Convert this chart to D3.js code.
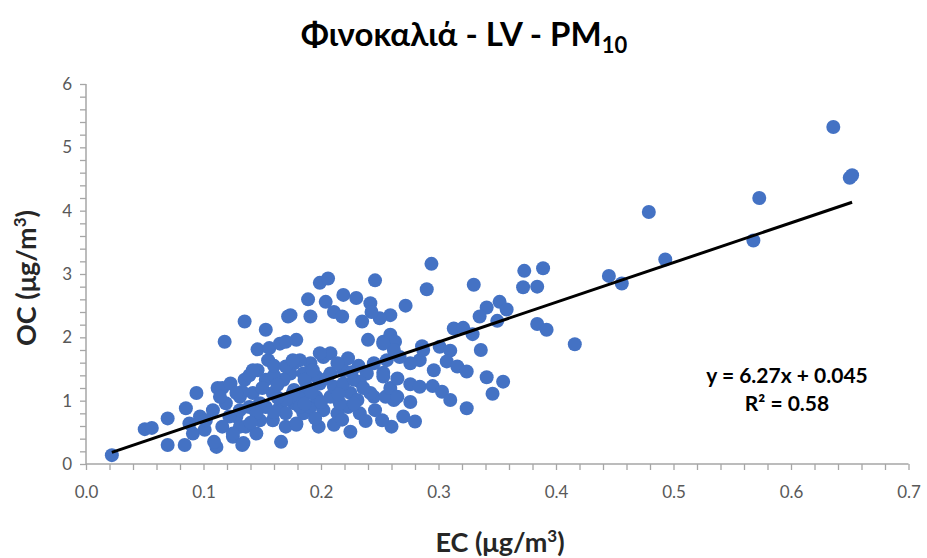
<!DOCTYPE html>
<html>
<head>
<meta charset="utf-8">
<script src="https://cdn.jsdelivr.net/npm/d3@7"></script>
<style>
  html, body { margin: 0; padding: 0; background: #fff; }
  svg { display: block; }
</style>
</head>
<body>
<svg id="chart" width="927" height="558"></svg>
<script>
// ---- data ----
const ecValues = [
  0.022,0.636,0.650,0.652,0.573,0.479,0.568,0.493,0.445,0.456,
  0.294,0.373,0.389,0.372,0.384,0.290,0.330,0.272,0.246,0.341,
  0.352,0.358,0.335,0.350,0.384,0.392,0.416,0.313,0.321,0.329,
  0.336,0.259,0.250,0.259,0.263,0.253,0.286,0.301,0.310,0.307,
  0.316,0.324,0.296,0.284,0.276,0.267,0.341,0.355,0.346,0.276,
  0.284,0.295,0.303,0.310,0.324,0.276,0.262,0.253,
  0.199,0.206,0.189,0.191,0.174,0.204,0.219,0.230,0.211,0.218,
  0.242,0.243,0.235,0.240,0.179,0.280,0.270,0.260,0.252,0.246,
  0.245,0.242,0.255,0.259,0.265,0.253,0.265,0.256,0.245,0.239,
  0.233,0.225,0.231,0.223,0.233,0.225,0.211,0.198,0.179,0.185,
  0.191,0.202,0.214,0.216,0.208,0.196,0.185,0.177,0.177,0.188,
  0.199,0.211,0.219,0.228,0.219,0.208,0.196,0.185,0.177,0.191,
  0.202,0.208,0.223,0.214,0.182,0.174,0.287,0.262,0.253,
  0.050,0.056,0.0695,0.0695,0.085,0.094,0.084,0.097,0.088,0.091,
  0.101,0.108,0.111,0.109,0.112,0.116,0.118,0.119,0.125,0.133,
  0.135,0.135,0.131,0.128,0.139,0.145,0.148,0.146,0.146,0.153,
  0.155,0.156,0.166,0.165,0.170,0.172,0.153,0.159,0.153,0.159,
  0.170,0.179,0.170,0.176,0.168,0.176,0.182,0.165,0.170,0.142,
  0.122,0.116,0.131,0.136,0.102,0.114,0.139,0.133,0.148,
  0.199,0.142,0.123,0.128,0.131,0.134,0.125,
  0.160,0.163,0.186,0.193,0.160,0.150,0.163,0.192,0.200,0.205,
  0.215,0.226,0.232,0.236,0.228,0.238,0.218,0.195,0.186,0.170,
  0.160,0.145,0.140
];
const ocValues = [
  0.14,5.32,4.52,4.56,4.20,3.98,3.53,3.23,2.97,2.85,
  3.16,3.05,3.09,2.79,2.80,2.76,2.83,2.50,2.90,2.47,
  2.56,2.44,2.33,2.26,2.21,2.12,1.89,2.14,2.15,2.05,
  1.80,2.35,2.30,2.04,1.93,1.93,1.86,1.85,1.79,1.62,
  1.54,1.46,1.48,1.64,1.59,1.69,1.37,1.30,1.11,1.26,
  1.22,1.23,1.14,1.01,0.88,0.98,1.01,1.44,
  2.86,2.93,2.60,2.33,2.35,2.56,2.67,2.62,2.40,2.33,
  2.54,2.40,2.25,1.96,1.96,0.67,0.75,0.59,0.69,0.85,
  1.06,1.12,1.06,1.20,1.06,1.38,1.35,1.64,1.59,1.43,
  1.30,1.12,1.01,0.90,0.80,0.51,0.62,0.59,0.62,0.80,
  0.90,0.85,0.80,0.96,1.06,1.06,1.06,0.96,1.17,1.22,
  1.27,1.22,1.27,1.33,1.48,1.43,1.38,1.43,1.59,1.59,
  1.69,1.75,1.67,1.59,1.64,1.43,1.80,1.80,1.90,
  0.55,0.57,0.30,0.72,0.88,1.12,0.30,0.75,0.64,0.48,
  0.54,0.85,0.27,0.35,1.20,1.20,1.93,0.96,0.43,0.30,
  2.25,1.33,1.06,0.75,0.90,0.48,0.69,1.48,1.81,2.12,
  1.64,1.83,0.35,1.90,1.93,2.33,1.33,1.12,0.90,0.69,
  0.59,0.64,1.54,1.64,1.33,1.12,0.90,0.90,1.01,1.12,
  0.75,0.59,0.59,0.59,0.69,1.06,1.40,1.14,0.96,
  1.75,1.48,1.27,1.12,0.85,0.33,0.48,
  1.40,1.25,1.33,1.48,1.55,1.20,1.05,1.12,0.98,1.35,
  1.10,1.45,1.55,1.20,0.95,0.68,0.70,0.72,0.95,0.80,
  0.82,0.80,0.65
];
const trendSlope = [6.27];
const trendIntercept = [0.045];
const trendLabels = ["y = 6.27x + 0.045", "R² = 0.58"];
const xTicks = [0, 0.1, 0.2, 0.3, 0.4, 0.5, 0.6, 0.7];
const yTicks = [0, 1, 2, 3, 4, 5, 6];

// ---- layout ----
const svg = d3.select("#chart");
const m = { left: 86, right: 908.5, top: 84, bottom: 464 };
const x = d3.scaleLinear().domain([0, 0.7]).range([m.left, m.right]);
const y = d3.scaleLinear().domain([0, 6]).range([m.bottom, m.top]);
const axisColor = "#a6a6a6";
const labelColor = "#595959";
const font = "Lato, 'Open Sans', sans-serif";

// minor ticks
const xMinor = d3.range(0, 0.7001, 0.02);
const yMinor = d3.range(0, 6.0001, 0.2);

const gx = svg.append("g").attr("transform", `translate(0,${m.bottom})`);
gx.call(d3.axisBottom(x).tickValues(xMinor).tickSize(6).tickFormat("").tickSizeOuter(0));
gx.select(".domain").remove();
gx.selectAll("line").attr("stroke", axisColor).attr("stroke-width", 1.3);
const gx2 = svg.append("g").attr("transform", `translate(0,${m.bottom})`);
gx2.call(d3.axisBottom(x).tickValues(xTicks).tickSize(0).tickPadding(22).tickFormat(d3.format(".1f")).tickSizeOuter(0));
gx2.select(".domain").remove();
gx2.selectAll("text").attr("fill", labelColor).style("font-family", font).style("font-size", "17px");

const gy = svg.append("g").attr("transform", `translate(${m.left},0)`);
gy.call(d3.axisLeft(y).tickValues(yMinor).tickSize(6).tickFormat("").tickSizeOuter(0));
gy.select(".domain").remove();
gy.selectAll("line").attr("stroke", axisColor).attr("stroke-width", 1.3);
const gy2 = svg.append("g").attr("transform", `translate(${m.left},0)`);
gy2.call(d3.axisLeft(y).tickValues(yTicks).tickSize(0).tickPadding(14).tickFormat(d3.format("d")).tickSizeOuter(0));
gy2.select(".domain").remove();
gy2.selectAll("text").attr("fill", labelColor).style("font-family", font).style("font-size", "17px");

// axis lines
svg.append("line").attr("x1", x(0)).attr("x2", x(0.7)).attr("y1", y(0)).attr("y2", y(0))
  .attr("stroke", axisColor).attr("stroke-width", 1.5);
svg.append("line").attr("x1", x(0)).attr("x2", x(0)).attr("y1", y(0)).attr("y2", y(6))
  .attr("stroke", axisColor).attr("stroke-width", 1.5);

// points
const pts = ecValues.map((e, i) => ({ ec: e, oc: ocValues[i] }));
svg.append("g").selectAll("circle").data(pts).join("circle")
  .attr("cx", d => x(d.ec)).attr("cy", d => y(d.oc)).attr("r", 7)
  .attr("fill", "#4472C4");

// trendline
const [xmin, xmax] = d3.extent(ecValues);
const line = d3.line().x(d => x(d)).y(d => y(trendSlope[0] * d + trendIntercept[0]));
svg.append("path").datum([xmin, xmax]).attr("d", line)
  .attr("stroke", "#000").attr("stroke-width", 3).attr("fill", "none");

// equation
svg.append("text").attr("x", 787).attr("y", 383).attr("text-anchor", "middle")
  .style("font-family", font).style("font-size", "21px").style("font-weight", "bold").attr("fill", "#000")
  .text(trendLabels[0]);
svg.append("text").attr("x", 787).attr("y", 411).attr("text-anchor", "middle")
  .style("font-family", font).style("font-size", "21px").style("font-weight", "bold").attr("fill", "#000")
  .text(trendLabels[1]);

// title
const t = svg.append("text").attr("x", 464).attr("y", 46).attr("text-anchor", "middle")
  .style("font-family", font).style("font-size", "33px").style("font-weight", "bold").attr("fill", "#000");
t.append("tspan").text("Φινοκαλιά - LV - PM");
t.append("tspan").attr("dy", 7).style("font-size", "22px").text("10");

// axis titles
const xt = svg.append("text").attr("x", 500).attr("y", 552).attr("text-anchor", "middle")
  .style("font-family", font).style("font-size", "27px").style("font-weight", "bold").attr("fill", "#262626");
xt.append("tspan").text("EC (μg/m");
xt.append("tspan").attr("dy", -10).style("font-size", "17px").text("3");
xt.append("tspan").attr("dy", 10).text(")");

const yt = svg.append("text").attr("transform", "translate(36,278) rotate(-90)").attr("text-anchor", "middle")
  .style("font-family", font).style("font-size", "27px").style("font-weight", "bold").attr("fill", "#262626");
yt.append("tspan").text("OC (μg/m");
yt.append("tspan").attr("dy", -10).style("font-size", "17px").text("3");
yt.append("tspan").attr("dy", 10).text(")");
</script>
</body>
</html>
